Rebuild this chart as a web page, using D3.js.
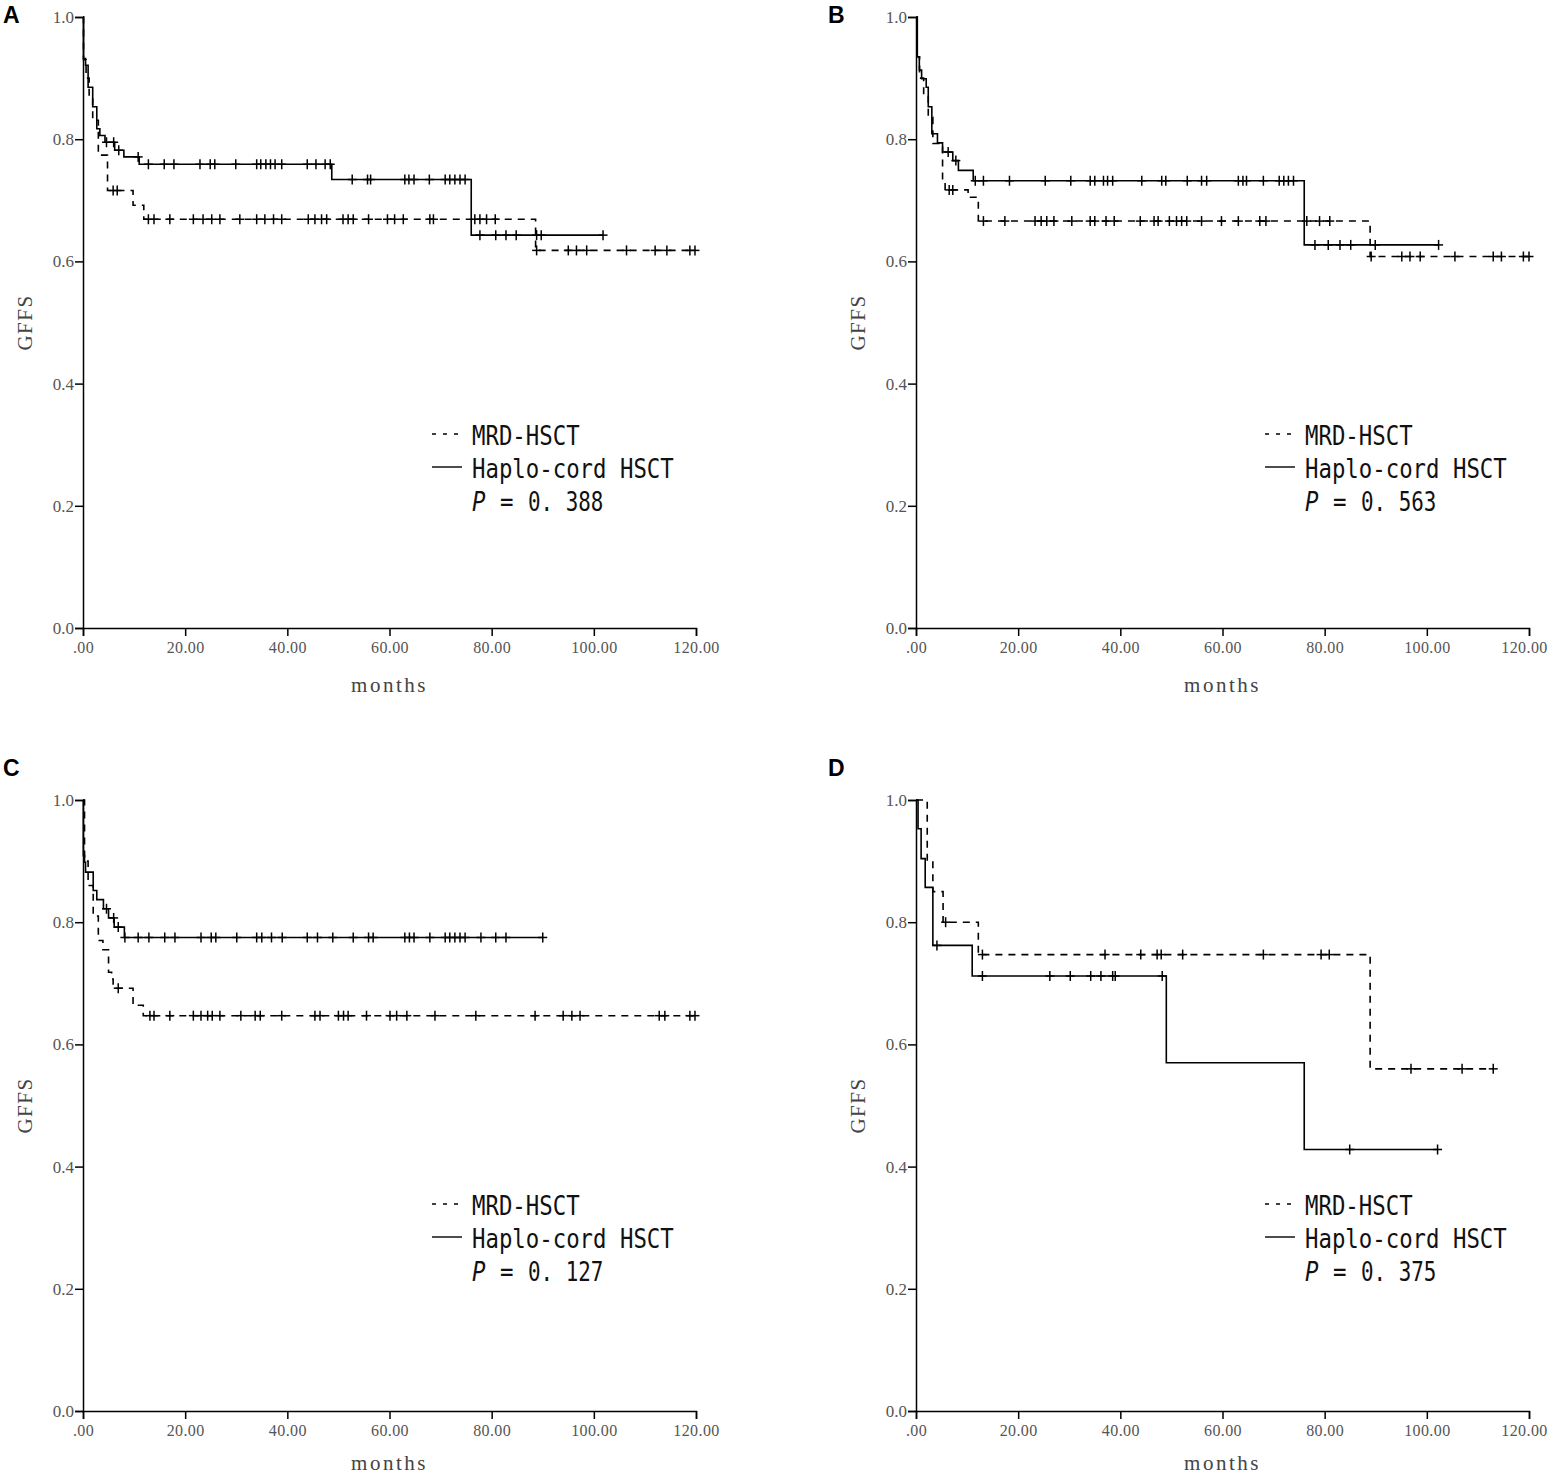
<html>
<head>
<meta charset="utf-8">
<title>GFFS Kaplan-Meier curves</title>
<style>
  body { margin: 0; background: #fff; }
  .axis path, .axis line { stroke: #000; stroke-width: 1.5; }
  .axis text { font-family: "Liberation Serif", "DejaVu Serif", serif; font-size: 17px; fill: #555; }
  .curve { fill: none; stroke: #000; stroke-width: 1.6; }
  .mrd { stroke-dasharray: 7,6; }
  .cens { stroke: #000; stroke-width: 1.5; }
  .title { font-family: "Liberation Serif", "DejaVu Serif", serif; fill: #444; }
  .legend { font-family: "DejaVu Sans Mono", "Liberation Mono", monospace; font-size: 26px; fill: #111; }
  .letter { font-family: "Liberation Sans", Arial, sans-serif; font-weight: bold; font-size: 23px; fill: #000; }
</style>
</head>
<body>
<svg class="chart"></svg>
<script src="https://d3js.org/d3.v7.min.js"></script>
<script>
// ---- data: [month, survival] step points, censor times, last follow-up
var panelLetters = ['A', 'B', 'C', 'D'];
var seriesNames = ['MRD-HSCT', 'Haplo-cord HSCT'];
var pValues = ['0.388', '0.563', '0.127', '0.375'];
var xTickValues = [0, 20, 40, 60, 80, 100, 120];
var xTickLabels = ['.00', '20.00', '40.00', '60.00', '80.00', '100.00', '120.00'];
var yTickValues = [0, 0.2, 0.4, 0.6, 0.8, 1.0];
var yTickLabels = ['0.0', '0.2', '0.4', '0.6', '0.8', '1.0'];

// panel A
var aMrdSteps = [[0,1],[0.1,0.93],[0.6,0.90],[1.2,0.87],[1.9,0.831],[3.0,0.774],[4.8,0.716],[9.8,0.692],[11.9,0.669],[88.6,0.618]];
var aMrdCens = [5.9,6.7,12.8,13.9,17.0,21.6,23.5,25.2,26.8,30.7,34.0,35.6,37.3,38.9,44.1,45.4,46.7,47.7,50.9,51.9,52.9,55.9,59.6,61.0,62.7,67.9,68.6,76.7,77.7,79.0,80.7,88.8,95.0,96.6,98.6,106.4,112.0,114.3,118.8];
var aMrdEnd = 119.8;
var aHaploSteps = [[0,1],[0.1,0.932],[0.5,0.921],[1.0,0.885],[1.9,0.853],[2.7,0.817],[3.3,0.806],[4.3,0.795],[6.2,0.782],[8.0,0.771],[11.0,0.759],[48.7,0.734],[76.0,0.643]];
var aHaploCens = [4.6,6.0,7.0,10.8,12.8,15.9,17.8,22.9,24.9,25.8,29.9,34.0,34.8,35.8,36.7,37.6,38.9,43.9,45.6,47.4,48.4,52.7,55.7,56.3,63.0,63.8,64.8,67.8,70.9,71.8,72.8,73.8,74.8,77.7,80.8,82.8,84.8,88.8,89.7];
var aHaploEnd = 101.8;

// panel B
var bMrdSteps = [[0,1],[0.2,0.935],[0.7,0.90],[1.5,0.87],[2.4,0.836],[3.3,0.793],[5.2,0.730],[5.7,0.717],[10.2,0.705],[12.2,0.666],[88.9,0.608]];
var bMrdCens = [6.5,7.2,13.2,17.4,23.3,24.5,25.6,27.0,30.5,34.1,35.0,37.2,38.8,43.9,46.6,47.4,49.6,51.0,52.0,53.0,55.9,59.8,63.1,67.3,68.5,76.5,79.0,81.0,89.1,95.1,96.7,98.7,105.5,113.0,114.6,118.9];
var bMrdEnd = 120;
var bHaploSteps = [[0,1],[0.26,0.935],[0.65,0.913],[1.1,0.899],[2.0,0.885],[2.4,0.853],[3.1,0.809],[4.2,0.794],[5.2,0.779],[7.2,0.765],[8.3,0.749],[11.2,0.732],[76.0,0.627]];
var bHaploCens = [6.3,7.8,11.6,13.2,18.3,25.3,30.3,34.1,35.0,36.7,37.5,38.5,44.2,48.1,48.9,53.1,55.9,56.9,63.1,64.0,64.7,68.0,71.1,72.0,72.9,73.9,78.1,80.7,83.0,85.1,89.9];
var bHaploEnd = 102.3;

// panel C
var cMrdSteps = [[0,1],[0.3,0.90],[1.0,0.86],[2.0,0.81],[3.0,0.77],[3.9,0.755],[5.0,0.718],[5.6,0.707],[5.9,0.692],[9.8,0.664],[11.8,0.647]];
var cMrdCens = [6.9,13.1,13.9,17.0,21.6,23.1,24.4,25.3,26.8,30.9,33.7,34.7,38.9,45.4,46.4,50.0,51.0,51.9,55.5,60.1,61.4,63.4,68.9,76.9,88.5,94.0,95.7,97.3,112.8,113.9,118.8];
var cMrdEnd = 119.8;
var cHaploSteps = [[0,1],[0.07,0.909],[0.3,0.898],[0.5,0.882],[2.0,0.852],[2.7,0.837],[4.0,0.822],[5.0,0.807],[6.1,0.792],[8.1,0.775]];
var cHaploCens = [4.6,6.0,6.9,8.2,10.8,12.9,16.0,18.0,23.1,25.1,26.0,30.1,34.0,35.0,36.9,39.0,43.9,45.9,48.9,52.9,55.9,56.8,63.0,63.9,64.8,67.9,70.9,71.8,72.8,73.8,74.8,77.9,80.8,82.8];
var cHaploEnd = 90.0;

// panel D
var dMrdSteps = [[0,1],[2.2,0.90],[3.3,0.85],[5.3,0.80],[12.2,0.747],[88.9,0.56]];
var dMrdCens = [5.8,13.0,37.0,44.0,47.2,48.0,52.2,68.0,79.3,80.9,96.9,106.9];
var dMrdEnd = 113.0;
var dHaploSteps = [[0,1],[0.4,0.953],[1.0,0.904],[1.8,0.857],[3.3,0.762],[11.0,0.712],[49.0,0.570],[76.0,0.428]];
var dHaploCens = [4.1,13.0,26.2,30.2,34.2,36.2,38.5,39.0,48.2,84.9];
var dHaploEnd = 102.1;

// ---- layout
var colX0 = [83, 916];
var rowTop = [17, 800];
var plotW = 613, plotH = 611;
var legendBase = [428, 415];
var titleGap = [64, 59];

var panels = [
  {mrd: aMrdSteps, mrdCens: aMrdCens, mrdEnd: aMrdEnd, haplo: aHaploSteps, haploCens: aHaploCens, haploEnd: aHaploEnd},
  {mrd: bMrdSteps, mrdCens: bMrdCens, mrdEnd: bMrdEnd, haplo: bHaploSteps, haploCens: bHaploCens, haploEnd: bHaploEnd},
  {mrd: cMrdSteps, mrdCens: cMrdCens, mrdEnd: cMrdEnd, haplo: cHaploSteps, haploCens: cHaploCens, haploEnd: cHaploEnd},
  {mrd: dMrdSteps, mrdCens: dMrdCens, mrdEnd: dMrdEnd, haplo: dHaploSteps, haploCens: dHaploCens, haploEnd: dHaploEnd}
];

var svg = d3.select('.chart')
  .attr('width', 1552)
  .attr('height', 1476);

function survAt(steps, t) {
  var s = steps[0][1];
  steps.forEach(function(p) { if (p[0] <= t) s = p[1]; });
  return s;
}

panels.forEach(function(p, i) {
  var col = i % 2, row = Math.floor(i / 2);
  var x0 = colX0[col], top = rowTop[row];

  var x = d3.scaleLinear().domain([0, 120]).range([x0, x0 + plotW]);
  var y = d3.scaleLinear().domain([0, 1]).range([top + plotH, top]);

  var g = svg.append('g');

  // axes
  var xa = g.append('g')
    .attr('class', 'axis')
    .attr('transform', 'translate(0,' + (top + plotH) + ')')
    .call(d3.axisBottom(x).tickValues(xTickValues).tickSizeOuter(0).tickSize(8).tickPadding(6)
      .tickFormat(function(d, k) { return xTickLabels[k]; }));
  xa.selectAll('text').style('font-size', '16px').attr('letter-spacing', '0.4px');
  if (col === 1) {
    // keep the last label inside the page
    xa.selectAll('text').filter(function(d) { return d === 120; }).attr('dx', -5);
  }

  g.append('g')
    .attr('class', 'axis')
    .attr('transform', 'translate(' + x0 + ',0)')
    .call(d3.axisLeft(y).tickValues(yTickValues).tickSizeOuter(0).tickSize(8).tickPadding(1)
      .tickFormat(function(d, k) { return yTickLabels[k]; }));

  // axis titles
  g.append('text')
    .attr('class', 'title')
    .attr('x', x0 + plotW / 2)
    .attr('y', top + plotH + titleGap[row])
    .attr('text-anchor', 'middle')
    .attr('letter-spacing', '2.5px')
    .style('font-size', '21px')
    .text('months');

  g.append('text')
    .attr('class', 'title')
    .attr('transform', 'translate(' + (x0 - 51) + ',' + (top + plotH / 2) + ') rotate(-90)')
    .attr('text-anchor', 'middle')
    .attr('letter-spacing', '1.5px')
    .style('font-size', '21px')
    .text('GFFS');

  // panel letter
  g.append('text')
    .attr('class', 'letter')
    .attr('x', col === 0 ? 3 : 828)
    .attr('y', row === 0 ? 23 : 776)
    .text(panelLetters[i]);

  // curves
  var line = d3.line()
    .x(function(d) { return x(d[0]); })
    .y(function(d) { return y(d[1]); })
    .curve(d3.curveStepAfter);

  [
    {steps: p.mrd, cens: p.mrdCens, end: p.mrdEnd, cls: 'curve mrd'},
    {steps: p.haplo, cens: p.haploCens, end: p.haploEnd, cls: 'curve'}
  ].forEach(function(s) {
    var pts = s.steps.concat([[s.end, s.steps[s.steps.length - 1][1]]]);
    g.append('path')
      .attr('class', s.cls)
      .attr('d', line(pts));

    var marks = g.append('g').selectAll('g')
      .data(s.cens.concat([s.end]))
      .enter()
      .append('g')
      .attr('transform', function(t) {
        return 'translate(' + x(t) + ',' + y(survAt(s.steps, t)) + ')';
      });
    marks.append('line').attr('class', 'cens')
      .attr('x1', 0).attr('x2', 0).attr('y1', -5).attr('y2', 5);
    marks.append('line').attr('class', 'cens')
      .attr('x1', -4.5).attr('x2', 4.5).attr('y1', 0).attr('y2', 0);
  });

  // legend
  var lx = x0 + 349, ly = top + legendBase[row];
  g.append('line')
    .attr('x1', lx).attr('x2', lx + 26)
    .attr('y1', ly - 11).attr('y2', ly - 11)
    .attr('stroke', '#000').attr('stroke-width', 1.4)
    .attr('stroke-dasharray', '4,7');
  g.append('line')
    .attr('x1', lx).attr('x2', lx + 30)
    .attr('y1', ly + 22).attr('y2', ly + 22)
    .attr('stroke', '#000').attr('stroke-width', 1.4);

  var charW = 13.45;
  g.append('text').attr('class', 'legend')
    .attr('x', lx + 40).attr('y', ly)
    .attr('textLength', seriesNames[0].length * charW).attr('lengthAdjust', 'spacingAndGlyphs')
    .text(seriesNames[0]);
  g.append('text').attr('class', 'legend')
    .attr('x', lx + 40).attr('y', ly + 33)
    .attr('textLength', seriesNames[1].length * charW).attr('lengthAdjust', 'spacingAndGlyphs')
    .text(seriesNames[1]);

  var pt = g.append('text').attr('class', 'legend')
    .attr('x', lx + 40).attr('y', ly + 66);
  pt.append('tspan').style('font-style', 'italic')
    .attr('textLength', charW).attr('lengthAdjust', 'spacingAndGlyphs').text('P');
  pt.append('tspan').attr('x', lx + 68)
    .attr('textLength', charW).attr('lengthAdjust', 'spacingAndGlyphs').text('=');
  pt.append('tspan').attr('x', lx + 96)
    .attr('textLength', 5.6 * charW).attr('lengthAdjust', 'spacingAndGlyphs')
    .text(pValues[i].replace('.', '. '));
});
</script>
</body>
</html>
